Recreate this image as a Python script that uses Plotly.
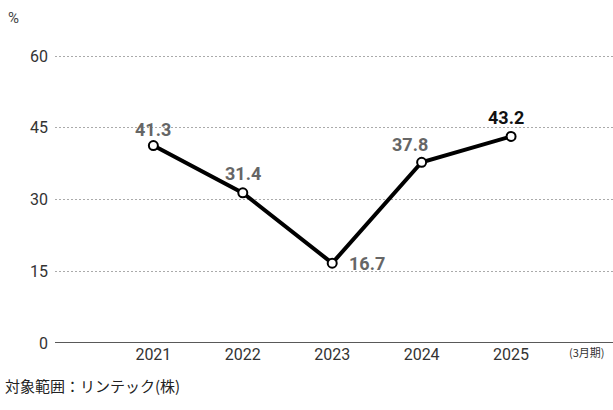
import plotly.graph_objects as go

years = ["2021", "2022", "2023", "2024", "2025"]
values = [41.3, 31.4, 16.7, 37.8, 43.2]
label_colors = ["#666666", "#666666", "#666666", "#666666", "#111111"]
y_ticks = [0, 15, 30, 45, 60]

xs = list(range(len(years)))

fig = go.Figure()
fig.add_trace(go.Scatter(
    x=xs, y=values, mode="lines+markers",
    line=dict(color="black", width=4),
    marker=dict(size=9, color="white", line=dict(color="black", width=2)),
    hoverinfo="skip", showlegend=False,
))

# label offsets (pixels) per point
offsets = [(0, 16), (0, 19), (35, 0), (-12, 18), (-5, 19)]
for x, v, c, (dx, dy) in zip(xs, values, label_colors, offsets):
    fig.add_annotation(x=x, y=v, text=f"<b>{v}</b>", showarrow=False,
                       xshift=dx, yshift=dy,
                       font=dict(size=18, color=c, family="Roboto"))

fig.add_annotation(xref="paper", yref="paper", x=1, y=0, yshift=-19, xshift=-6,
                   xanchor="right", text="(3月期)", showarrow=False,
                   font=dict(size=11, color="#333333", family="Noto Sans CJK JP"))
fig.add_annotation(xref="paper", yref="paper", x=0, y=1, xshift=-49, yshift=30,
                   xanchor="left", text="%", showarrow=False,
                   font=dict(size=15, color="#444444", family="Roboto"))
fig.add_annotation(xref="paper", yref="paper", x=0, y=0, xshift=-52, yshift=-42,
                   xanchor="left", yanchor="middle",
                   text="対象範囲：リンテック(株)", showarrow=False,
                   font=dict(size=15, color="#222222", family="Noto Sans CJK JP"))

fig.update_layout(
    width=613, height=410,
    margin=dict(l=55, r=0, t=37, b=67),
    plot_bgcolor="white", paper_bgcolor="white",
    xaxis=dict(range=[-1.1, 5.14], tickvals=xs, ticktext=years, showgrid=False,
               zeroline=False, showline=False, ticks="",
               tickfont=dict(size=16, color="#333333", family="Roboto")),
    yaxis=dict(range=[0, 64], tickvals=y_ticks, showgrid=True, gridcolor="#aaaaaa",
               griddash="2px,2px", gridwidth=1, zeroline=False, showline=False, ticks="",
               ticklabelstandoff=6,
               tickfont=dict(size=16, color="#333333", family="Roboto")),
    shapes=[dict(type="line", xref="paper", yref="y", x0=0, x1=1, y0=0, y1=0,
                 line=dict(color="#222222", width=1.5))],
)

fig.write_html("out.html", config={"displayModeBar": False},
               post_script="document.body.style.margin='0';")
